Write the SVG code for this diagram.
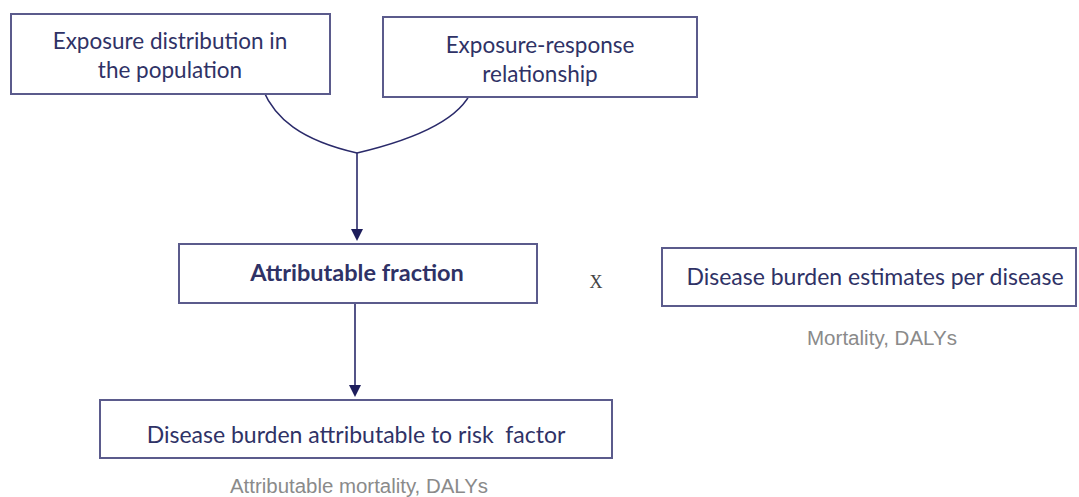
<svg xmlns="http://www.w3.org/2000/svg" width="1079" height="497" viewBox="0 0 1079 497">
<defs>
<style>
.box{fill:#fff;stroke:#5b5b8c;stroke-width:2}
.t{font-family:Lato,"Open Sans",sans-serif;fill:#2f3266;text-anchor:middle;white-space:pre}
.s{font-size:22.5px}
.m{font-size:23px}
.b{font-weight:bold;font-size:23.5px}
.g{font-family:"Liberation Sans",Arial,sans-serif;fill:#8a8a8a;font-size:20px;text-anchor:middle}
.c{fill:none;stroke:#2a2a6a;stroke-width:1.6}
</style>
<marker id="ah" markerWidth="12" markerHeight="12" refX="10" refY="6" orient="auto" markerUnits="userSpaceOnUse">
<path d="M0,0 L12,6 L0,12 z" fill="#1e1e5c"/>
</marker>
</defs>
<rect width="1079" height="497" fill="#fff"/>
<g id="connectors">
<path class="c" d="M263,90 C275,118 300,140 357,153"/>
<path class="c" d="M472,90 C462,115 425,137 357,153"/>
<path class="c" d="M357,153 L357,239" marker-end="url(#ah)"/>
<path class="c" d="M355,304 L355,395" marker-end="url(#ah)"/>
</g>
<g id="node-exposure-distribution">
<rect class="box" x="11" y="14" width="319" height="80"/>
<text class="t s" x="170" y="49">Exposure distribution in</text>
<text class="t s" x="170" y="78">the population</text>
</g>
<g id="node-exposure-response">
<rect class="box" x="383" y="17" width="314" height="80"/>
<text class="t s" x="540" y="53">Exposure-response</text>
<text class="t s" x="540" y="82">relationship</text>
</g>
<g id="node-attributable-fraction">
<rect class="box" x="179" y="244" width="358" height="59"/>
<text class="t b" x="357" y="281">Attributable fraction</text>
</g>
<g id="node-times">
<text x="596" y="288" font-family="'Liberation Serif',serif" font-size="18" fill="#444" text-anchor="middle">X</text>
</g>
<g id="node-disease-burden-estimates">
<rect class="box" x="662" y="248" width="414" height="58"/>
<text class="t m" x="875" y="285">Disease burden estimates per disease</text>
<text class="g" x="882" y="345" textLength="150" lengthAdjust="spacingAndGlyphs">Mortality, DALYs</text>
</g>
<g id="node-attributable-burden">
<rect class="box" x="100" y="400" width="512" height="58"/>
<text class="t m" x="356" y="443">Disease burden attributable to risk  factor</text>
<text class="g" x="359" y="493" textLength="258" lengthAdjust="spacingAndGlyphs">Attributable mortality, DALYs</text>
</g>
</svg>
